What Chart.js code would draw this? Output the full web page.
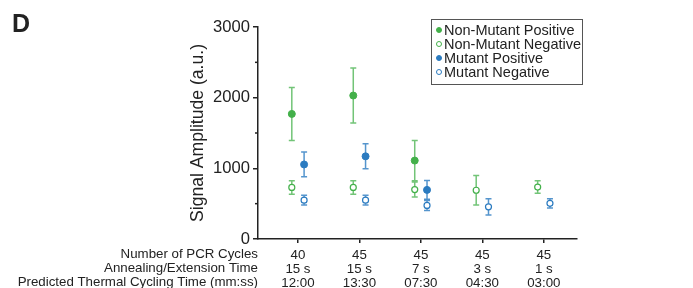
<!DOCTYPE html>
<html>
<head>
<meta charset="utf-8">
<script src="https://cdn.jsdelivr.net/npm/chart.js@4.4.1/dist/chart.umd.min.js"></script>
<style>
  html, body { margin: 0; padding: 0; background: #fff; }
  #wrap { position: relative; width: 693px; height: 288px; }
  #legend {
    position: absolute; left: 431px; top: 19px; width: 150px; height: 61px;
    border: 1px solid #555; font: 14.5px 'Liberation Sans', Arial, sans-serif; color: #222;
    padding-top: 3px; box-sizing: content-box;
  }
  #legend div { height: 14px; line-height: 14px; white-space: nowrap; position: relative; padding-left: 12px; }
  #legend i { position: absolute; left: 4px; top: 4px; width: 6px; height: 6px; border-radius: 50%; box-sizing: border-box; }
</style>
</head>
<body>
<div id="wrap">
  <canvas id="c"></canvas>
  <div id="legend"></div>
</div>
<script>
(function () {
  'use strict';

  const groups = [0, 1, 2, 3, 4];
  const cycles = ['40', '45', '45', '45', '45'];
  const annealing = ['15 s', '15 s', '7 s', '3 s', '1 s'];
  const thermal = ['12:00', '13:30', '07:30', '04:30', '03:00'];
  const rowTitles = ['Number of PCR Cycles', 'Annealing/Extension Time', 'Predicted Thermal Cycling Time (mm:ss)'];

  const nonMutPos = [1770, 2030, 1110, null, null];
  const nonMutPosErr = [375, 390, 285, null, null];
  const nonMutNeg = [730, 730, 700, 690, 735];
  const nonMutNegErr = [95, 95, 105, 210, 88];
  const mutPos = [1055, 1170, 695, null, null];
  const mutPosErr = [175, 177, 134, null, null];
  const mutNeg = [550, 550, 475, 455, 505];
  const mutNegErr = [70, 70, 70, 115, 66];

  const yTicks = [0, 1000, 2000, 3000];
  const yMinor = [500, 1500, 2500];

  const GREEN = '#43b04a';
  const GREEN_BAR = 'rgba(67,176,74,0.75)';
  const BLUE = '#2b7bc0';
  const BLUE_BAR = 'rgba(43,123,192,0.8)';
  const FONT = "'Liberation Sans', Arial, sans-serif";
  const TXT = '#222';

  function pts(vals, errs, off) {
    const out = [];
    groups.forEach((g, i) => {
      if (vals[i] != null) out.push({ x: g + off, y: vals[i], err: errs[i] });
    });
    return out;
  }

  const series = [
    { label: 'Non-Mutant Positive', data: pts(nonMutPos, nonMutPosErr, -0.1), color: GREEN, bar: GREEN_BAR, open: false },
    { label: 'Non-Mutant Negative', data: pts(nonMutNeg, nonMutNegErr, -0.1), color: GREEN, bar: GREEN_BAR, open: true },
    { label: 'Mutant Positive', data: pts(mutPos, mutPosErr, 0.1), color: BLUE, bar: BLUE_BAR, open: false },
    { label: 'Mutant Negative', data: pts(mutNeg, mutNegErr, 0.1), color: BLUE, bar: BLUE_BAR, open: true },
  ];

  const errorBars = {
    id: 'errorBars',
    beforeDatasetsDraw(chart) {
      const ctx = chart.ctx;
      const xs = chart.scales.x, ys = chart.scales.y;
      ctx.save();
      chart.data.datasets.forEach(ds => {
        ctx.strokeStyle = ds.barColor;
        ctx.lineWidth = 1.5;
        ds.data.forEach(p => {
          const x = xs.getPixelForValue(p.x);
          const y1 = ys.getPixelForValue(p.y + p.err);
          const y0 = ys.getPixelForValue(p.y - p.err);
          ctx.beginPath();
          ctx.moveTo(x, y1); ctx.lineTo(x, y0);
          ctx.moveTo(x - 3, y1); ctx.lineTo(x + 3, y1);
          ctx.moveTo(x - 3, y0); ctx.lineTo(x + 3, y0);
          ctx.stroke();
        });
      });
      ctx.restore();
    },
  };

  const extras = {
    id: 'extras',
    afterDraw(chart) {
      const ctx = chart.ctx;
      const xs = chart.scales.x, ys = chart.scales.y;
      ctx.save();
      // minor y ticks
      ctx.strokeStyle = TXT;
      ctx.lineWidth = 1.5;
      yMinor.forEach(v => {
        const y = ys.getPixelForValue(v);
        ctx.beginPath();
        ctx.moveTo(xs.left - 3, y); ctx.lineTo(xs.left, y);
        ctx.stroke();
      });
      // panel letter
      ctx.fillStyle = TXT;
      ctx.font = 'bold 25px ' + FONT;
      ctx.textAlign = 'left';
      ctx.textBaseline = 'alphabetic';
      ctx.fillText('D', 12, 32);
      // row titles
      ctx.font = '13.3px ' + FONT;
      ctx.textAlign = 'right';
      ctx.textBaseline = 'middle';
      rowTitles.forEach((t, i) => {
        ctx.fillText(t, xs.left, 254 + i * 14);
      });
      ctx.restore();
    },
  };

  function buildLegend() {
    const el = document.getElementById('legend');
    series.forEach(s => {
      const row = document.createElement('div');
      const dot = document.createElement('i');
      dot.style.border = '1.2px solid ' + s.color;
      dot.style.background = s.open ? '#fff' : s.color;
      row.appendChild(dot);
      row.appendChild(document.createTextNode(s.label));
      el.appendChild(row);
    });
  }

  function render() {
    new Chart(document.getElementById('c'), {
      type: 'scatter',
      data: {
        datasets: series.map(s => ({
          label: s.label,
          data: s.data,
          barColor: s.bar,
          pointRadius: s.open ? 3 : 3.5,
          pointBorderWidth: s.open ? 1.2 : 1,
          pointBorderColor: s.color,
          pointBackgroundColor: s.open ? '#fff' : s.color,
          pointHoverRadius: 4,
        })),
      },
      options: {
        responsive: true,
        maintainAspectRatio: false,
        animation: false,
        layout: { padding: { left: 188, right: 116, top: 27, bottom: 0 } },
        plugins: { legend: { display: false }, tooltip: { enabled: false } },
        scales: {
          x: {
            type: 'linear',
            min: -0.65,
            max: 4.54,
            afterBuildTicks: scale => { scale.ticks = groups.map(v => ({ value: v })); },
            afterFit: scale => { scale.height = 49; },
            border: { color: TXT, width: 1.5 },
            grid: { drawOnChartArea: false, color: TXT, lineWidth: 1.5, tickLength: 4 },
            ticks: {
              autoSkip: false,
              maxRotation: 0,
              padding: 5,
              color: TXT,
              font: { family: FONT, size: 13.3, lineHeight: 14 / 13.3 },
              callback: v => [cycles[v], annealing[v], thermal[v]],
            },
          },
          y: {
            min: 0,
            max: 3000,
            afterBuildTicks: scale => { scale.ticks = yTicks.map(v => ({ value: v })); },
            afterFit: scale => { scale.width = 70; },
            border: { color: TXT, width: 1.5 },
            grid: { drawOnChartArea: false, color: TXT, lineWidth: 1.5, tickLength: 5 },
            ticks: {
              padding: 3,
              color: TXT,
              font: { family: FONT, size: 16.6 },
              callback: v => String(v),
            },
            title: {
              display: true,
              text: 'Signal Amplitude (a.u.)',
              color: TXT,
              font: { family: FONT, size: 17.6 },
              padding: { top: 0, bottom: 0 },
            },
          },
        },
      },
      plugins: [errorBars, extras],
    });
  }

  buildLegend();
  render();
})();
</script>
</body>
</html>
